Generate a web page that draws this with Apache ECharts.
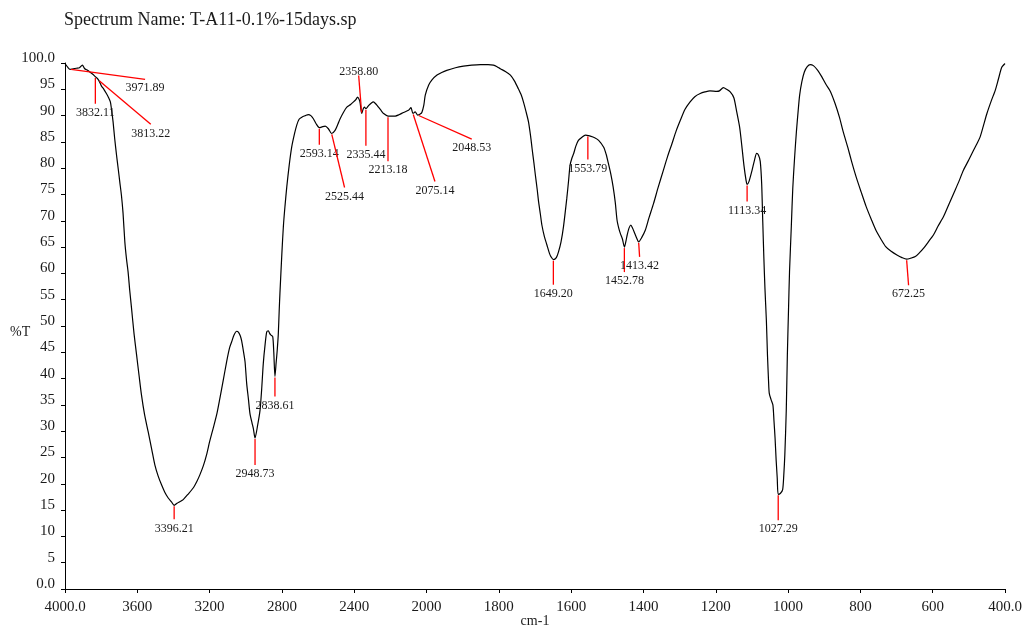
<!DOCTYPE html>
<html>
<head>
<meta charset="utf-8">
<title>Spectrum Name: T-A11-0.1%-15days.sp</title>
<script src="https://cdn.jsdelivr.net/npm/echarts@6/dist/echarts.min.js"></script>
<style>
  html, body { margin: 0; padding: 0; background: #fff; }
  #chart { width: 1024px; height: 626px; }
</style>
</head>
<body>
<div id="chart"></div>
<script>
// FTIR transmittance spectrum, wavenumber (cm-1) vs %T
const wavenumber = [
  4000, 3985, 3972, 3955, 3937, 3920, 3904, 3891, 3875, 3863, 3848, 3832.11, 3822, 3813.22, 3798, 3785, 3771, 3760, 3749, 3742,
  3734, 3725, 3715, 3706, 3697, 3688, 3679, 3669, 3660, 3651, 3642, 3632, 3618, 3604, 3590, 3577, 3560, 3540, 3520, 3503,
  3485, 3466, 3448, 3429, 3410, 3396.21, 3380, 3365, 3346, 3320, 3291, 3270, 3254, 3235, 3217, 3200, 3180, 3160, 3143, 3125,
  3106, 3090, 3078, 3065, 3050, 3040, 3030, 3023, 3012, 3004, 2995, 2985, 2977, 2965, 2958, 2948.73, 2935, 2921, 2912, 2903,
  2893, 2884, 2875, 2868, 2862, 2851, 2845, 2838.61, 2832, 2826, 2820, 2815, 2811, 2800, 2792, 2783, 2773, 2760, 2746, 2730,
  2718, 2705, 2690, 2670, 2654, 2640, 2626, 2610, 2593.14, 2575, 2561, 2543, 2525.44, 2506, 2490, 2478, 2460, 2441, 2420, 2404,
  2390, 2382, 2372, 2367, 2358.80, 2350, 2343, 2335.44, 2321, 2305, 2294, 2280, 2266, 2250, 2238, 2213.18, 2190, 2173, 2150, 2127,
  2100, 2086, 2075.14, 2063, 2048.53, 2035, 2026, 2015, 2007, 1994, 1985, 1971, 1958, 1944, 1920, 1898, 1875, 1851, 1830, 1815,
  1805, 1796, 1782, 1768, 1757, 1746, 1738, 1732, 1725, 1718, 1712, 1708, 1703, 1699, 1694, 1690, 1685, 1681, 1674, 1667,
  1660, 1656, 1649.20, 1641, 1635, 1628, 1621, 1612, 1607, 1603, 1598, 1593, 1587, 1580, 1570, 1561, 1553.79, 1547, 1535, 1524,
  1510, 1503, 1497, 1490, 1484, 1478, 1473, 1468, 1464, 1458, 1452.78, 1448, 1445, 1440, 1435, 1430, 1424, 1418, 1413.42, 1405,
  1395, 1385, 1372, 1360, 1345, 1333, 1321, 1310, 1298, 1285, 1271, 1258, 1243, 1230, 1216, 1197, 1190, 1179, 1170, 1160,
  1150, 1142, 1134, 1128, 1122, 1116, 1113.34, 1108, 1100, 1093, 1087, 1082, 1077, 1073, 1070, 1067, 1064, 1060, 1057, 1054,
  1052, 1047, 1042, 1039, 1036, 1033, 1030, 1027.29, 1021, 1015, 1012, 1009, 1005, 1002, 999, 996, 991, 987, 982, 977,
  972, 968, 962, 955, 947, 939, 930, 918, 907, 895, 883, 870, 858, 847, 835, 824, 812, 798, 784, 770,
  757, 743, 730, 715, 699, 685, 672.25, 660, 648, 637, 625, 612, 598, 585, 570, 556, 542, 528, 515, 500,
  487, 478, 469, 460, 450, 438, 427, 418, 409, 400
];
const transmittance = [
  99.9, 99.2, 98.8, 98.9, 99.0, 99.1, 99.6, 98.9, 98.6, 98.3, 97.9, 97.4, 97.1, 96.7, 95.6, 95.0, 94.2, 93.5, 92.6, 91.0,
  88.8, 85.6, 82.5, 80.0, 77.4, 74.9, 71.5, 66.0, 62.8, 60.3, 56.8, 53.4, 48.5, 44.5, 40.5, 36.9, 33.2, 29.9, 26.5, 23.6,
  21.5, 19.8, 18.4, 17.3, 16.5, 15.9, 16.3, 16.6, 17.0, 18.0, 19.2, 20.5, 21.7, 23.4, 25.5, 28.0, 30.6, 33.3, 36.3, 39.6,
  43.2, 45.8, 47.0, 48.3, 49.0, 48.8, 48.1, 47.2, 45.0, 43.2, 39.1, 36.0, 33.4, 31.5, 30.5, 28.7, 31.0, 34.0, 38.0, 42.9,
  46.5, 48.9, 49.1, 48.6, 48.3, 48.0, 45.0, 40.4, 43.0, 45.4, 48.5, 53.0, 56.2, 64.0, 68.9, 72.8, 76.5, 80.5, 84.0, 86.6,
  88.2, 89.3, 89.7, 90.0, 90.2, 90.0, 89.4, 88.4, 87.7, 87.9, 88.0, 87.5, 86.6, 87.2, 88.4, 89.4, 90.6, 91.6, 92.1, 92.6,
  93.1, 93.5, 93.0, 92.3, 90.4, 91.3, 91.6, 91.3, 91.9, 92.4, 92.6, 92.2, 91.6, 90.9, 90.4, 89.9, 89.9, 89.9, 90.2, 90.6,
  91.0, 91.5, 90.4, 90.7, 90.1, 90.3, 90.6, 92.0, 93.9, 95.8, 96.8, 97.7, 98.2, 98.6, 99.1, 99.4, 99.6, 99.7, 99.7, 99.6,
  99.3, 98.9, 98.4, 97.7, 96.6, 95.1, 93.9, 92.6, 90.8, 88.8, 86.0, 83.7, 81.0, 78.7, 76.0, 73.6, 71.2, 69.2, 67.0, 65.4,
  63.8, 63.2, 62.6, 63.0, 64.1, 66.0, 69.0, 74.3, 77.7, 80.6, 81.9, 82.8, 84.2, 85.3, 85.9, 86.3, 86.2, 86.1, 85.8, 85.3,
  84.0, 82.6, 80.9, 78.8, 76.5, 73.5, 70.1, 68.5, 67.6, 66.5, 65.0, 66.3, 67.3, 68.6, 69.2, 68.6, 67.6, 66.6, 66.0, 66.8,
  68.2, 70.5, 73.3, 76.2, 79.6, 82.3, 84.7, 87.0, 89.1, 91.2, 92.6, 93.6, 94.2, 94.5, 94.7, 94.6, 94.7, 95.3, 95.0, 94.5,
  93.4, 90.7, 87.8, 84.3, 80.5, 77.6, 76.9, 77.5, 79.5, 81.5, 82.8, 82.5, 81.3, 77.0, 69.8, 63.0, 57.2, 51.0, 44.5, 39.5,
  37.2, 36.0, 35.0, 32.0, 28.7, 24.5, 21.1, 18.0, 18.2, 18.9, 21.5, 25.5, 34.0, 44.5, 52.5, 60.3, 69.0, 76.2, 82.0, 86.9,
  91.0, 93.9, 96.4, 98.3, 99.3, 99.7, 99.5, 98.6, 97.4, 95.9, 94.6, 92.3, 89.7, 86.8, 84.0, 81.2, 78.4, 75.5, 72.7, 70.3,
  68.2, 66.5, 65.1, 64.2, 63.5, 63.0, 62.7, 62.9, 63.2, 63.9, 64.8, 66.0, 67.3, 69.0, 70.8, 73.0, 75.2, 77.4, 79.6, 81.6,
  83.4, 84.6, 85.9, 88.0, 90.4, 92.8, 94.8, 97.0, 99.2, 99.9
];

// Picked peaks (wavenumber labels) and their %T on the trace
const peakWn = [3971.89, 3832.11, 3813.22, 3396.21, 2948.73, 2838.61, 2593.14, 2525.44, 2358.80, 2335.44,
                2213.18, 2075.14, 2048.53, 1649.20, 1553.79, 1452.78, 1413.42, 1113.34, 1027.29, 672.25];
const peakT  = [98.8, 97.4, 96.7, 15.9, 28.7, 40.4, 87.7, 86.6, 90.4, 91.3,
                89.9, 90.4, 90.1, 62.6, 86.2, 65.0, 66.0, 76.9, 18.0, 62.7];

// Axis ticks (cm-1) and %T ticks
const xTicks = [4000, 3600, 3200, 2800, 2400, 2000, 1800, 1600, 1400, 1200, 1000, 800, 600, 400];
const yTicks = [0, 5, 10, 15, 20, 25, 30, 35, 40, 45, 50, 55, 60, 65, 70, 75, 80, 85, 90, 95, 100];

// Layout: leader line end offsets (px) from each peak point
const leaderOffsets = [[75, 10], [0, 27], [52, 44], [0, 14], [0, 27], [0, 20], [0, 17], [13, 54], [-3, -38], [0, 37],
                       [0, 45], [22, 68], [54, 24], [0, 25], [0, 24], [0, 25], [1, 15], [0, 17], [0, 26], [2, 26]];

// The instrument scale doubles below 2000 cm-1: compress the high-wavenumber half
const toAxis = w => (w <= 2000 ? w : 2000 + (w - 2000) / 2);
const fromAxis = t => (t <= 2000 ? t : 2 * t - 2000);

const serif = '"Liberation Serif", "Times New Roman", serif';
const textColor = '#1a1a1a';

const lineData = wavenumber.map((w, i) => [toAxis(w), transmittance[i]]);
const peakData = peakWn.map((w, i) => [toAxis(w), peakT[i], i]);

const xLabelText = t => {
  const w = Math.round(fromAxis(t));
  if (!xTicks.includes(w)) return '';
  return (w === 4000 || w === 400) ? w.toFixed(1) : String(w);
};
const yLabelText = v => {
  if (!yTicks.includes(v)) return '';
  return (v === 0 || v === 100) ? v.toFixed(1) : String(v);
};

const chart = echarts.init(document.getElementById('chart'), null, { renderer: 'canvas' });
chart.setOption({
  animation: false,
  backgroundColor: '#fff',
  title: {
    text: 'Spectrum Name: T-A11-0.1%-15days.sp',
    left: 64,
    top: 11,
    padding: 0,
    textStyle: { fontFamily: serif, fontSize: 18, fontWeight: 'normal', color: textColor }
  },
  graphic: [{
    type: 'text',
    left: 10,
    top: 325,
    style: { text: '%T', font: '14px ' + serif, fill: textColor }
  }],
  grid: { left: 65, right: 19, top: 63, bottom: 37, containLabel: false, outerBoundsMode: 'none' },
  xAxis: {
    type: 'value',
    inverse: true,
    min: 400,
    max: 3000,
    interval: 200,
    name: 'cm-1',
    nameLocation: 'middle',
    nameGap: 25,
    nameMoveOverlap: false,
    nameTextStyle: { fontFamily: serif, fontSize: 14, color: textColor },
    splitLine: { show: false },
    axisLine: { lineStyle: { color: '#000', width: 1 } },
    axisTick: { length: 4, lineStyle: { color: '#000' } },
    axisLabel: { margin: 11, fontFamily: serif, fontSize: 15, color: textColor, formatter: xLabelText }
  },
  yAxis: {
    type: 'value',
    min: 0,
    max: 100,
    interval: 5,
    splitLine: { show: false },
    axisLine: { show: true, lineStyle: { color: '#000', width: 1 } },
    axisTick: { show: true, length: 4, lineStyle: { color: '#000' } },
    axisLabel: {
      margin: 10, fontFamily: serif, fontSize: 15, color: textColor,
      lineHeight: 10, verticalAlign: 'bottom', formatter: yLabelText
    }
  },
  series: [
    {
      type: 'line',
      data: lineData,
      showSymbol: false,
      smooth: 0.25,
      lineStyle: { color: '#000', width: 1.2 },
      z: 3
    },
    {
      type: 'custom',
      data: peakData,
      clip: false,
      z: 4,
      renderItem: (params, api) => {
        const p = api.coord([api.value(0), api.value(1)]);
        const idx = api.value(2);
        const [dx, dy] = leaderOffsets[idx];
        const len = Math.hypot(dx, dy);
        const sx = p[0] + dx / len, sy = p[1] + dy / len;
        const ex = p[0] + dx, ey = p[1] + dy;
        const up = dy < 0;
        return {
          type: 'group',
          children: [
            {
              type: 'line',
              shape: { x1: sx, y1: sy, x2: ex, y2: ey },
              style: { stroke: '#ff0000', lineWidth: 1.3 }
            },
            {
              type: 'text',
              x: ex,
              y: up ? ey + 2 : ey + 3,
              style: {
                text: peakWn[idx].toFixed(2),
                font: '12px ' + serif,
                fill: textColor,
                align: 'center',
                verticalAlign: up ? 'bottom' : 'top'
              }
            }
          ]
        };
      }
    }
  ]
});
</script>
</body>
</html>
